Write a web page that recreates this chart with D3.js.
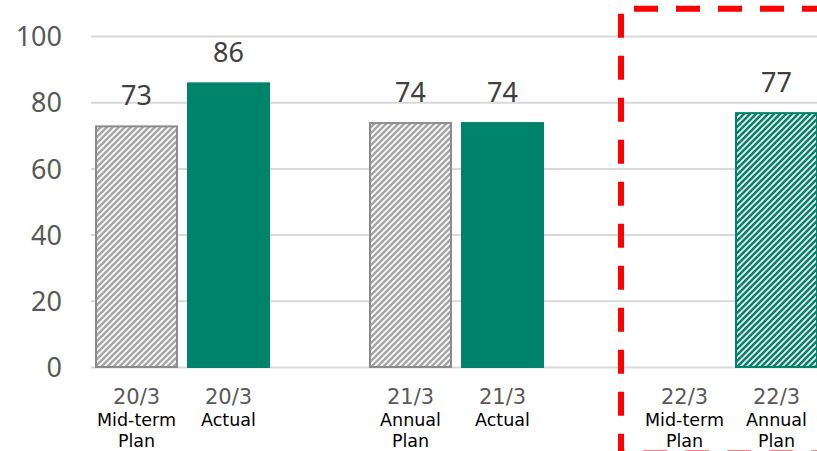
<!DOCTYPE html>
<html><head><meta charset="utf-8">
<script src="https://cdn.jsdelivr.net/npm/d3@7"></script>
<style>html,body{margin:0;padding:0;background:#fff;}svg{display:block;}</style>
</head><body>
<svg id="chart" width="817" height="451"></svg>
<script>
const periods = ["20/3", "21/3", "22/3"];
const planLabels = [["Mid-term", "Plan"], ["Annual", "Plan"], ["Mid-term", "Plan"]];
const actualLabels = [["Actual"], ["Actual"], ["Annual", "Plan"]];
const planValues = [73, 74, null];
const actualValues = [86, 74, 77];
const actualHatched = [false, false, true];
const yTicks = [0, 20, 40, 60, 80, 100];

const svg = d3.select("#chart");
const W = 817, H = 451;
const y = d3.scaleLinear().domain([0, 100]).range([367, 36]);
const xGroup = d3.scaleBand().domain(d3.range(periods.length)).range([95, 818]).paddingInner(0.3613).paddingOuter(0);
const xInner = d3.scaleBand().domain([0, 1]).range([0, xGroup.bandwidth()]).paddingInner(0.098).paddingOuter(0);

const green = "#00836b";
const defs = svg.append("defs");
function hatch(id, color) {
  const p = defs.append("pattern").attr("id", id).attr("patternUnits", "userSpaceOnUse")
    .attr("width", 6).attr("height", 6);
  p.append("rect").attr("width", 6).attr("height", 6).attr("fill", "#fff");
  p.append("path").attr("d", "M0,6 L6,0 M-1.5,1.5 L1.5,-1.5 M4.5,7.5 L7.5,4.5")
    .attr("stroke", color).attr("stroke-width", 2.6).attr("fill", "none");
}
hatch("hGrey", "#a6a6a6");
hatch("hGreen", green);

// gridlines
const yAxis = d3.axisLeft(y).tickValues(yTicks).tickSize(-(W - 91)).tickPadding(29);
const gAxis = svg.append("g").attr("transform", "translate(91,0)").call(yAxis);
gAxis.select(".domain").remove();
gAxis.selectAll(".tick line").attr("stroke", "#d9d9d9").attr("stroke-width", 2);
gAxis.selectAll(".tick text").attr("fill", "#595959").attr("font-family", "Noto Sans, sans-serif")
  .attr("font-size", 27).attr("dy", "0.36em");

const rows = [];
periods.forEach((p, i) => {
  rows.push({g: i, s: 0, v: planValues[i], fill: "url(#hGrey)", stroke: "#8c8c8c", lab: planLabels[i]});
  rows.push({g: i, s: 1, v: actualValues[i], fill: actualHatched[i] ? "url(#hGreen)" : green, stroke: green, lab: actualLabels[i]});
});

const bars = svg.append("g");
rows.filter(d => d.v != null).forEach(d => {
  const x0 = xGroup(d.g) + xInner(d.s);
  bars.append("rect").attr("x", x0 + 1).attr("y", y(d.v) + 1)
    .attr("width", xInner.bandwidth() - 2).attr("height", y(0) - y(d.v) - 1)
    .attr("fill", d.fill).attr("stroke", d.stroke).attr("stroke-width", 2);
  bars.append("text").attr("x", x0 + xInner.bandwidth() / 2).attr("y", y(d.v) - 20)
    .attr("text-anchor", "middle").attr("fill", "#404040")
    .attr("font-family", "Noto Sans, sans-serif").attr("font-size", 27).text(d.v);
});

// category labels
const labs = svg.append("g").attr("font-family", "DejaVu Sans, sans-serif").attr("text-anchor", "middle");
rows.forEach(d => {
  const cx = xGroup(d.g) + xInner(d.s) + xInner.bandwidth() / 2;
  labs.append("text").attr("x", cx).attr("y", 404).attr("fill", "#595959").attr("font-size", 21).text(periods[d.g]);
  d.lab.forEach((t, k) => {
    labs.append("text").attr("x", cx).attr("y", 426 + k * 21).attr("fill", "#000").attr("font-size", 17.5).text(t);
  });
});

// red dashed forecast frame
const fx = xGroup(2) - 22;
svg.append("path")
  .attr("d", `M${W + 10},8.7 H${fx} V453.5 H${W + 10}`)
  .attr("fill", "none").attr("stroke", "#ff0000").attr("stroke-width", 6)
  .attr("stroke-dasharray", "24,18").attr("stroke-dashoffset", -1);
</script>
</body></html>
